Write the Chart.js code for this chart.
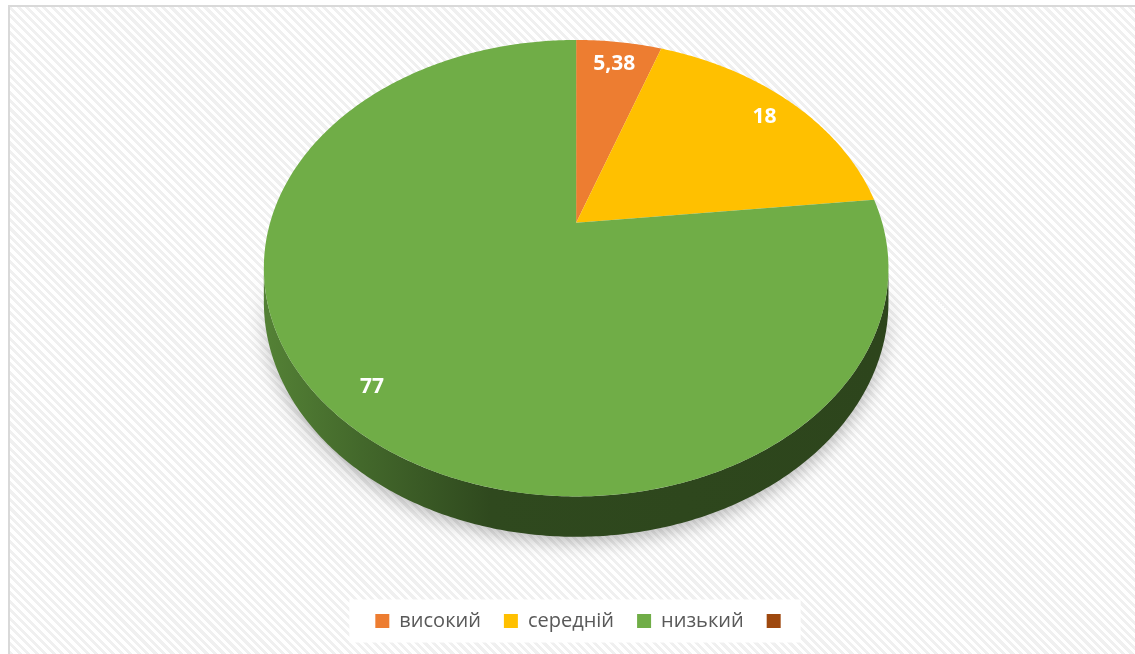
<!DOCTYPE html>
<html>
<head>
<meta charset="utf-8">
<script src="https://cdn.jsdelivr.net/npm/chart.js@4"></script>
<style>
    html, body { margin: 0; padding: 0; background: #fff; overflow: hidden; }
    #frame {
        position: absolute; left: 8px; top: 5px; width: 1140px; height: 660px;
        border-top: 2px solid #d9d9d9; border-left: 2px solid #d9d9d9;
        background: repeating-linear-gradient(45deg, #ffffff 0 3px, #f0f0f0 3px 6px);
    }
    #wrap { position: absolute; left: 0; top: 0; width: 1135px; height: 654px; }
</style>
</head>
<body>
<div id="frame"></div>
<div id="wrap"><canvas id="levelChart"></canvas></div>
<script>
const levels = ['високий', 'середній', 'низький', ''];
const shares = [5.38, 18, 77, 0];
const sliceColors = ['#ED7D31', '#FFC000', '#70AD47', '#9E480E'];

// how the flat pie is tilted into a 3D disc (sizes relative to the arc radius)
const view = { tilt: 0.199, sx: 1.117, sy: 0.800, lift: 0.333, shift: -0.025, depth: 0.118, labelAt: 0.87 };

function shade(hex, f) {
    const n = parseInt(hex.slice(1), 16);
    const r = Math.round(((n >> 16) & 255) * f);
    const g = Math.round(((n >> 8) & 255) * f);
    const b = Math.round((n & 255) * f);
    return `rgb(${r}, ${g}, ${b})`;
}

function projector(arc) {
    const R = arc.outerRadius;
    const cx = arc.x + view.shift * R, cy = arc.y - view.lift * R;
    const a = view.sx * R, b = view.sy * R, k = view.tilt;
    return (theta, r = 1, drop = 0) => {
        const u = r * Math.cos(theta), v = -r * Math.sin(theta);
        const w = 1 + k * v;
        return [cx + a * u / w, cy - b * v / w + drop * view.depth * R / w];
    };
}

function formatShare(v) {
    return String(v).replace('.', ',');
}

const legendBackdrop = {
    id: 'legendBackdrop',
    beforeDraw(chart) {
        const boxes = chart.legend && chart.legend.legendHitBoxes;
        if (!boxes || !boxes.length) return;
        const first = boxes[0], last = boxes[boxes.length - 1];
        const mid = first.top + first.height / 2;
        const ctx = chart.ctx;
        ctx.save();
        ctx.fillStyle = '#ffffff';
        ctx.fillRect(first.left - 26, mid - 21.5, last.left + 34 - (first.left - 26), 43);
        ctx.restore();
    }
};

const pie3d = {
    id: 'pie3d',
    beforeDatasetsDraw(chart) {
        const ctx = chart.ctx;
        const arcs = chart.getDatasetMeta(0).data;
        if (!arcs.length) return false;
        const P = projector(arcs[0]);
        const edge = Math.asin(view.tilt);
        const front = [edge, Math.PI - edge];
        const xl = P(Math.PI)[0], xr = P(0)[0];
        const step = 0.01;

        // side wall of the disc, only where it faces the viewer
        arcs.forEach((arc, i) => {
            const s = Math.max(arc.startAngle, front[0]);
            const e = Math.min(arc.endAngle, front[1]);
            if (e <= s) return;
            const top = [], bottom = [];
            for (let t = s; t < e; t += step) {
                top.push(P(t));
                bottom.push(P(t, 1, 1));
            }
            top.push(P(e));
            bottom.push(P(e, 1, 1));
            const base = sliceColors[i];
            const grad = ctx.createLinearGradient(xl, 0, xr, 0);
            grad.addColorStop(0, shade(base, 0.74));
            grad.addColorStop(0.15, shade(base, 0.6));
            grad.addColorStop(0.36, shade(base, 0.42));
            grad.addColorStop(1, shade(base, 0.4));
            ctx.save();
            ctx.shadowColor = 'rgba(0, 0, 0, 0.28)';
            ctx.shadowBlur = 18;
            ctx.shadowOffsetY = 5;
            ctx.beginPath();
            top.forEach(([x, y], j) => j ? ctx.lineTo(x, y) : ctx.moveTo(x, y));
            for (let j = bottom.length - 1; j >= 0; j--) ctx.lineTo(bottom[j][0], bottom[j][1]);
            ctx.closePath();
            ctx.fillStyle = grad;
            ctx.fill();
            ctx.restore();
        });

        // top face
        arcs.forEach((arc, i) => {
            if (arc.endAngle - arc.startAngle <= 0) return;
            ctx.beginPath();
            const c = P(0, 0);
            ctx.moveTo(c[0], c[1]);
            for (let t = arc.startAngle; t < arc.endAngle; t += step) {
                const p = P(t);
                ctx.lineTo(p[0], p[1]);
            }
            const end = P(arc.endAngle);
            ctx.lineTo(end[0], end[1]);
            ctx.closePath();
            ctx.fillStyle = sliceColors[i];
            ctx.fill();
        });

        // value labels, centred on the digits rather than the em box
        ctx.save();
        ctx.fillStyle = '#ffffff';
        ctx.font = 'bold 21px "Open Sans"';
        ctx.textAlign = 'center';
        ctx.textBaseline = 'alphabetic';
        const capHalf = ctx.measureText('0').actualBoundingBoxAscent / 2;
        arcs.forEach((arc, i) => {
            if (!shares[i]) return;
            const mid = (arc.startAngle + arc.endAngle) / 2;
            const p = P(mid, view.labelAt);
            ctx.fillText(formatShare(shares[i]), p[0], p[1] + capHalf);
        });
        ctx.restore();
        return false;
    }
};

const ctx = document.getElementById('levelChart').getContext('2d');
new Chart(ctx, {
    type: 'pie',
    data: {
        labels: levels,
        datasets: [{
            data: shares,
            backgroundColor: sliceColors,
            borderWidth: 0
        }]
    },
    options: {
        responsive: true,
        maintainAspectRatio: false,
        animation: false,
        layout: {
            padding: { left: 31, right: 0, top: 40, bottom: 13 }
        },
        plugins: {
            legend: {
                position: 'bottom',
                labels: {
                    boxWidth: 14,
                    boxHeight: 14,
                    padding: 23,
                    color: '#595959',
                    font: { family: 'Open Sans', size: 20 }
                }
            },
            tooltip: { enabled: false }
        }
    },
    plugins: [legendBackdrop, pie3d]
});
</script>
</body>
</html>
